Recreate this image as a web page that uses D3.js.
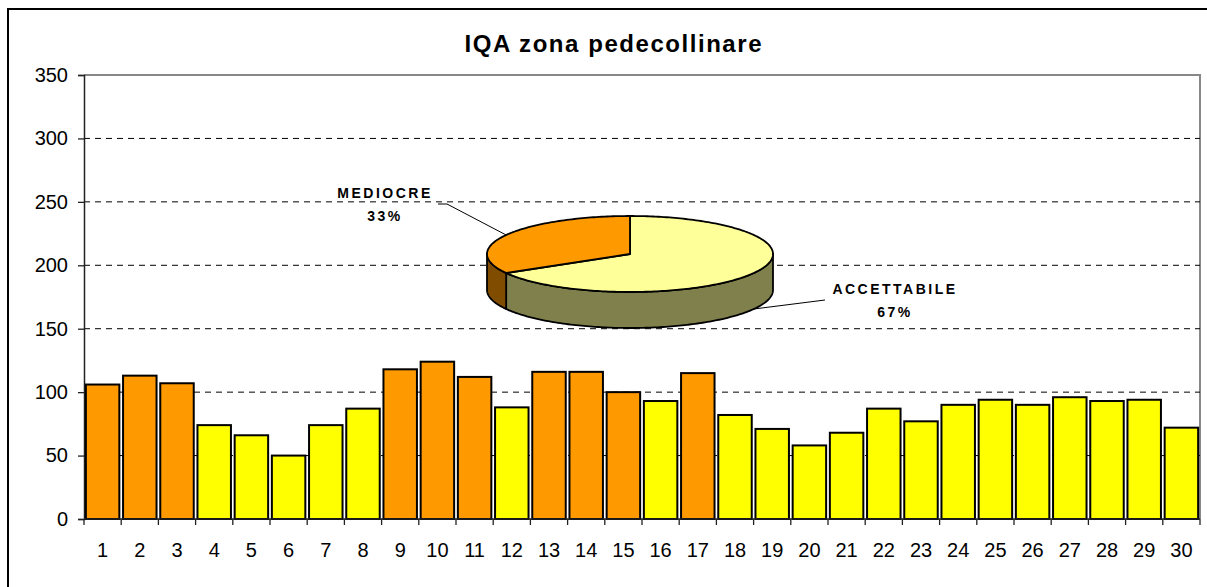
<!DOCTYPE html>
<html>
<head>
<meta charset="utf-8">
<script src="https://cdn.jsdelivr.net/npm/d3@7"></script>
<style>
  body { margin: 0; background: white; }
  svg { display: block; font-family: "Liberation Sans", Arial, sans-serif; }
</style>
</head>
<body>
<svg id="chart" width="1207" height="587"></svg>
<script>
// Data
const stations = d3.range(1, 31);
const iqaValues = [106, 113, 107, 74, 66, 50, 74, 87, 118, 124,
                   112, 88, 116, 116, 100, 93, 115, 82, 71, 58,
                   68, 87, 77, 90, 94, 90, 96, 93, 94, 72];
// M = mediocre, A = accettabile
const quality = ["M", "M", "M", "A", "A", "A", "A", "A", "M", "M",
                 "M", "A", "M", "M", "M", "A", "M", "A", "A", "A",
                 "A", "A", "A", "A", "A", "A", "A", "A", "A", "A"];
const yTicks = [0, 50, 100, 150, 200, 250, 300, 350];
const pieClasses = ["ACCETTABILE", "MEDIOCRE"];
const pieCodes = ["A", "M"];

const colors = { M: "#FF9900", A: "#FFFF00" };
const pieTop = { A: "#FFFF99", M: "#FF9900" };
const pieSide = { A: "#80804C", M: "#804C00" };

const svg = d3.select("#chart");
const W = 1207, H = 587;
const plot = { left: 84, right: 1200, top: 75, bottom: 519 };

// Outer chart frame (runs past the right and bottom edge)
svg.append("rect")
  .attr("x", 8).attr("y", 9)
  .attr("width", W + 20).attr("height", H + 20)
  .attr("fill", "white")
  .attr("stroke", "black")
  .attr("stroke-width", 2);

// Title
svg.append("text")
  .attr("x", 613).attr("y", 52)
  .attr("text-anchor", "middle")
  .attr("font-size", 24)
  .attr("font-weight", "bold")
  .attr("textLength", 297)
  .attr("lengthAdjust", "spacing")
  .text("IQA zona pedecollinare");

const x = d3.scaleBand()
  .domain(stations)
  .range([plot.left, plot.right])
  .paddingInner(0.1)
  .paddingOuter(0.05);

const y = d3.scaleLinear()
  .domain([0, 350])
  .range([plot.bottom, plot.top]);

// Plot area border (grey top and right)
svg.append("path")
  .attr("d", `M${plot.left},${plot.top}H${plot.right}V${plot.bottom}`)
  .attr("fill", "none")
  .attr("stroke", "#888")
  .attr("stroke-width", 2);

// Dashed gridlines
svg.append("g")
  .selectAll("line")
  .data(yTicks.filter((t) => t > 0 && t < 350))
  .join("line")
  .attr("x1", plot.left).attr("x2", plot.right)
  .attr("y1", (d) => y(d)).attr("y2", (d) => y(d))
  .attr("stroke", "black")
  .attr("stroke-dasharray", "6,5");

// Y axis
const yAxis = svg.append("g")
  .attr("transform", `translate(${plot.left},0)`)
  .call(d3.axisLeft(y).tickValues(yTicks).tickSize(6).tickPadding(10));
yAxis.select(".domain").attr("stroke", "#222").attr("stroke-width", 1.5);
yAxis.selectAll(".tick line").attr("stroke", "#222").attr("stroke-width", 1.3);
yAxis.selectAll("text")
  .attr("font-size", 20)
  .attr("font-family", "Liberation Sans, Arial, sans-serif")
  .attr("fill", "black");

// Bars
svg.append("g")
  .selectAll("rect")
  .data(stations)
  .join("rect")
  .attr("x", (d) => x(d))
  .attr("y", (d, i) => y(iqaValues[i]))
  .attr("width", x.bandwidth())
  .attr("height", (d, i) => y(0) - y(iqaValues[i]))
  .attr("fill", (d, i) => colors[quality[i]])
  .attr("stroke", "black")
  .attr("stroke-width", 2);

// X axis: ticks at the band boundaries, labels centered
const step = x.step();
const gap = step * x.paddingInner() / 2;
const xAxis = svg.append("g");
xAxis.append("line")
  .attr("x1", plot.left).attr("x2", plot.right)
  .attr("y1", plot.bottom).attr("y2", plot.bottom)
  .attr("stroke", "#222")
  .attr("stroke-width", 1.5);
xAxis.selectAll(".bound")
  .data(stations.concat([stations.length + 1]))
  .join("line")
  .attr("class", "bound")
  .attr("x1", (d) => (d <= stations.length ? x(d) - gap : plot.right))
  .attr("x2", (d) => (d <= stations.length ? x(d) - gap : plot.right))
  .attr("y1", plot.bottom).attr("y2", plot.bottom + 6)
  .attr("stroke", "#222")
  .attr("stroke-width", 1.3);
xAxis.selectAll("text")
  .data(stations)
  .join("text")
  .attr("x", (d) => x(d) + x.bandwidth() / 2)
  .attr("y", 557)
  .attr("text-anchor", "middle")
  .attr("font-size", 20)
  .text((d) => d);

// 3D pie of the quality classes
const counts = pieCodes.map((c) => quality.filter((q) => q === c).length);
const total = d3.sum(counts);
const pieData = d3.pie().sort(null)(counts);

const pc = { cx: 630, cy: 254, rx: 143, ry: 38, depth: 36 };
const px = (a) => pc.cx + pc.rx * Math.sin(a);
const py = (a) => pc.cy - pc.ry * Math.cos(a);

function arcPoints(a0, a1, dy) {
  const n = Math.max(2, Math.ceil(Math.abs(a1 - a0) / 0.02));
  return d3.range(n + 1).map((k) => {
    const a = a0 + (a1 - a0) * k / n;
    return [px(a), py(a) + dy];
  });
}

const pieG = svg.append("g");
const line = d3.line();

// Sides: only the front half (angles between 90 and 270 degrees) is visible
const front0 = Math.PI / 2, front1 = 3 * Math.PI / 2;
pieData.forEach((s, i) => {
  const a0 = Math.max(s.startAngle, front0);
  const a1 = Math.min(s.endAngle, front1);
  if (a1 <= a0) return;
  const pts = arcPoints(a0, a1, 0).concat(arcPoints(a1, a0, pc.depth));
  pieG.append("path")
    .attr("d", line(pts) + "Z")
    .attr("fill", pieSide[pieCodes[i]])
    .attr("stroke", "black")
    .attr("stroke-width", 1.8)
    .attr("stroke-linejoin", "round");
});

// Top faces
pieData.forEach((s, i) => {
  const pts = [[pc.cx, pc.cy]].concat(arcPoints(s.startAngle, s.endAngle, 0));
  pieG.append("path")
    .attr("d", line(pts) + "Z")
    .attr("fill", pieTop[pieCodes[i]])
    .attr("stroke", "black")
    .attr("stroke-width", 1.8)
    .attr("stroke-linejoin", "round");
});

// Labels with leader lines
const labelLayout = {
  MEDIOCRE: { lx: 385, ly: 198, bend: [[447, 204], [438, 204]], onSide: false },
  ACCETTABILE: { lx: 895, ly: 294, bend: [[825, 300]], onSide: true }
};
pieData.forEach((s, i) => {
  const name = pieClasses[i];
  const lay = labelLayout[name];
  const mid = (s.startAngle + s.endAngle) / 2;
  const start = [px(mid), py(mid) + (lay.onSide ? pc.depth : 0)];
  pieG.append("path")
    .attr("d", line([start].concat(lay.bend)))
    .attr("fill", "none")
    .attr("stroke", "black")
    .attr("stroke-width", 1);
  const t = pieG.append("text")
    .attr("text-anchor", "middle")
    .attr("font-size", 14)
    .attr("font-weight", "bold")
    .attr("letter-spacing", 2.5);
  t.append("tspan").attr("x", lay.lx).attr("y", lay.ly).text(name);
  t.append("tspan").attr("x", lay.lx).attr("y", lay.ly + 22.7)
    .text(Math.round(counts[i] / total * 100) + "%");
});
</script>
</body>
</html>
